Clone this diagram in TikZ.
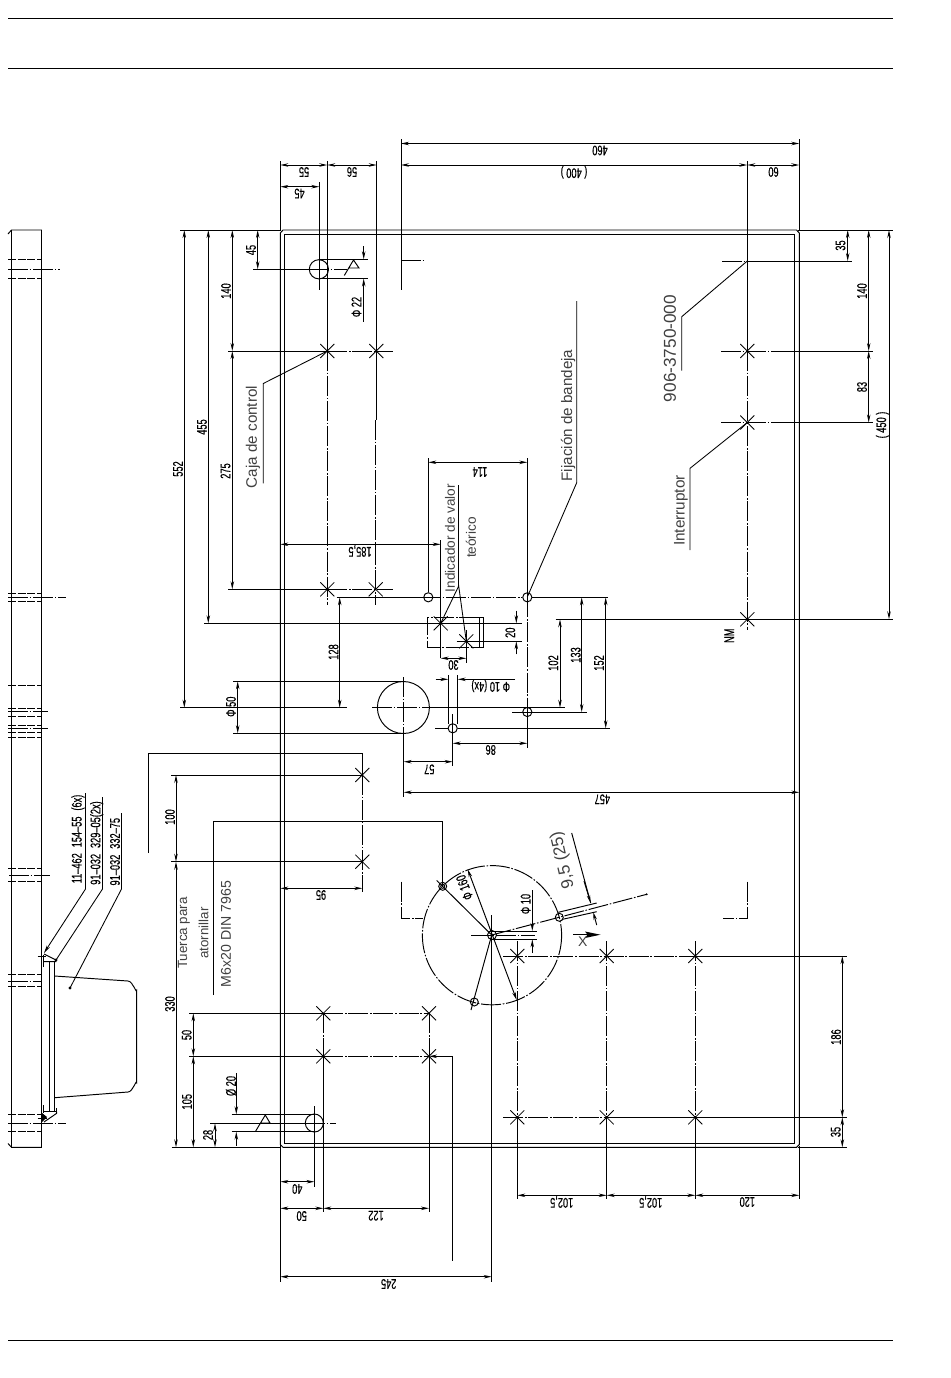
\documentclass[tikz,border=0pt]{standalone}
\usepackage{fontspec}
\setmainfont{Liberation Sans}
\newfontfamily\dimfont[FakeStretch=0.66,FakeBold=0.3]{Liberation Sans}
\usetikzlibrary{arrows.meta}
\newcounter{nd}
\newcommand{\dt}[4]{\stepcounter{nd}\node[dimtext,rotate=#3] (d\thend) at (#1,#2) {#4};}
\newcommand{\lb}[5]{\stepcounter{nd}\node[labeltext,rotate=#4,font=\fontsize{#3}{#3}\selectfont] (l\thend) at (#1,#2) {#5};}
\newcommand{\xm}[2]{\draw[xmk] (#1-7,#2-7)--(#1+7,#2+7) (#1-7,#2+7)--(#1+7,#2-7);}
\tikzset{
  x=0.75pt,y=-0.75pt,
  every path/.style={line width=0.72pt,line join=miter},
  dimtext/.style={inner sep=0pt,text=black,font=\dimfont\fontsize{10.5}{11}\selectfont},
  labeltext/.style={inner sep=0pt,text=black!75},
  cl/.style={dash pattern=on 15pt off 1.3pt on 1.2pt off 1.3pt},
  hd/.style={dash pattern=on 6pt off 1.3pt},
  xmk/.style={line width=0.62pt},
  dm/.style={{Stealth[length=6pt,width=2.6pt]}-{Stealth[length=6pt,width=2.6pt]}},
  ar/.style={-{Stealth[length=6pt,width=2.6pt]}},
  lead/.style={line width=0.65pt}
}
\begin{document}
\begin{tikzpicture}
\useasboundingbox (0,0) rectangle (950,1378);
% page rules
\draw (8,18)--(893,18); \draw (8,68)--(893,68); \draw (8,1340)--(893,1340);

% plate
\draw (280.3,233)--(283,230)--(796.5,230)--(799.3,233)--(799.3,1144.5)--(796.5,1147.3)--(283,1147.3)--(280.3,1144.5)--cycle;
\draw (284.3,234.3) rectangle (794.7,1143.3);
\draw (180,230)--(281,230) (798,230)--(893,230);
\draw (171.7,1147.3)--(281,1147.3) (798,1147.3)--(847.3,1147.3);
\draw (280.3,161.3)--(280.3,231);
\draw[line width=1.1pt] (280.3,1130)--(280.3,1187);
\draw (280.3,1147)--(280.3,1282);
\draw (799.3,139)--(799.3,231) (799.3,1146)--(799.3,1199.3);

% side view
\draw (8,234)--(11.5,230)--(41.5,230)--(41.5,1147.3)--(11.5,1147.3)--(8,1143.5);
\draw (11.5,230)--(11.5,1147.3);
\foreach \yy in {259.3,278.5,593,601,685.3,708,716,725.3,732.3,737.3,868,881,974,986.3,1114,1131}
  {\draw[hd] (8,\yy)--(41.5,\yy);}
\draw[cl] (8,269.5)--(60,269.5);
\draw[cl] (8,597)--(66,597);
\draw[cl,line width=1.1pt] (8,711.7)--(48,711.7);
\draw[cl] (8,728.3)--(48,728.3);
\draw[cl] (9,875.3)--(50,875.3);
\draw[cl] (8,981)--(41.5,981);
\draw[cl] (8,1123.3)--(66,1123.3);
% side view: panel and brackets
\draw (49,962)--(49,1111.7) (54.5,962)--(54.5,1111.7);
\draw (43.3,967)--(43.3,955) (37.5,956)--(46,956);
\draw (43.3,961.7)--(56,961.7)--(56,960)--(44,954);
\draw (43.3,1105)--(43.3,1113);
\draw (43.3,1111.7)--(56.7,1111.7)--(56.7,1107.5);
\draw (56.7,1111.7)--(56.7,1113.3)--(44,1122);
\fill (42,1113)--(47,1117)--(42,1122)--cycle;
\draw (37.5,1118)--(47,1118);
\draw (54.5,976)--(128,981) to[out=0,in=-90] (136.7,990)--(136.7,1083) to[out=90,in=0] (128,1092)--(54.5,1097.7);
% side view leaders
\draw[lead] (85.5,793)--(85.5,889);
\draw[lead,ar] (85.5,889)--(44,953);
\draw[lead] (102.5,797)--(102.5,889)--(56,960);
\fill (56,960) circle[radius=1.6];
\draw[lead] (121.5,813)--(121.5,889)--(70,988);
\fill (70,988) circle[radius=1.6];
\dt{78}{839}{90}{11–462\hspace{2.5pt} 154–55\hspace{2.5pt} (6x)}
\dt{96.7}{843}{90}{91–032\hspace{2.5pt} 329–05(2x)}
\dt{115}{851.7}{90}{91–032\hspace{2.5pt} 332–75}

% top dimensions
\draw (401,139)--(401,290);
\draw[cl] (401,260.5)--(423,260.5);
\draw[dm] (401,143.5)--(799.3,143.5);
\dt{600}{150.5}{180}{460}
\draw[dm] (401,165)--(747.3,165);
\dt{574}{172}{180}{( 400 )}
\draw[dm] (747.3,165)--(799.3,165);
\dt{773.5}{172}{180}{60}
\draw (747.3,161)--(747.3,351);
\draw[cl] (747.3,351)--(747.3,630);
\draw[cl] (722,261)--(747.3,261); \draw (747.3,261)--(851.7,261);
\draw[cl] (721,351)--(790,351); \draw (790,351)--(873,351);
\draw[cl] (721,422.5)--(790,422.5); \draw (790,422.5)--(873,422.5);
\draw[cl] (555.7,619.3)--(565,619.3); \draw (565,619.3)--(893,619.3);
\xm{747.3}{351} \xm{747.3}{422.5} \xm{747.3}{619.3}
\dt{729.3}{635.7}{90}{NM}

% right dimensions
\draw[dm] (847.7,230)--(847.7,261); \dt{840.5}{245.5}{90}{35}
\draw[dm] (868.7,230)--(868.7,351); \dt{862}{291}{90}{140}
\draw[dm] (868.7,351)--(868.7,422.5); \dt{862}{387}{90}{83}
\draw[dm] (889,230)--(889,619.3); \dt{882.5}{425}{90}{( 450 )}

% labels right
\draw[lead] (747.3,261)--(681.7,316.7)--(681.7,370.7);
\lb{670}{348.5}{12.9}{90}{906-3750-000}
\draw[lead] (747.3,422.5)--(690,468.3)--(690,550);
\lb{681}{510.5}{11.5}{90}{Interruptor}
\draw[lead] (527.3,597)--(576.7,482.7)--(576.7,301);
\lb{568}{415.5}{11.4}{90}{Fijación de bandeja}

% upper left group
\draw[dm] (280.3,186.7)--(319.3,186.7); \dt{299.5}{193.5}{180}{45}
\draw[dm] (280.3,165)--(327.3,165); \dt{304}{172}{180}{55}
\draw[dm] (327.3,165)--(376.7,165); \dt{352}{172}{180}{56}
\draw (327.3,161.3)--(327.3,351); \draw[cl] (327.3,351)--(327.3,605);
\draw (376.7,161.3)--(376.7,420); \draw[cl] (375.7,420)--(375.7,605);
\draw (319.3,182)--(319.3,290);
\draw (253,269.3)--(309,269.3); \draw[cl] (309,269.3)--(347,269.3);
\draw (318.9,269.3) circle[radius=9.6];
\draw (319,259.3)--(368,259.3) (319,278.5)--(368,278.5);
\draw (344.3,275.5)--(353.5,260)--(359,268)--(348.3,268);
\draw[ar] (363.7,246)--(363.7,259.3);
\draw[ar] (363.7,321.7)--(363.7,278.5);
\dt{356.5}{307}{90}{Φ 22}
\draw[dm] (257.7,230)--(257.7,269.3); \dt{251}{250}{90}{45}
\draw[dm] (232.3,230)--(232.3,351); \dt{226}{291}{90}{140}
\draw[dm] (232.3,351)--(232.3,589.3); \dt{225.5}{471}{90}{275}
\draw[dm] (208.3,230)--(208.3,623.3); \dt{202}{427}{90}{455}
\draw[dm] (184.3,230)--(184.3,707.7); \dt{178}{469}{90}{552}
\draw (228,351)--(327.3,351); \draw[cl] (327.3,351)--(392.7,351);
\draw (228,589.3)--(327.3,589.3); \draw[cl] (327.3,589.3)--(393,589.3);
\xm{327.3}{351} \xm{376.3}{351} \xm{327.3}{589.3} \xm{375.7}{589.3}
\draw[lead] (327.3,351)--(263.3,383.5)--(263.3,483.3);
\lb{253}{437}{11.4}{90}{Caja de control}

% centre group
\draw (428.3,458)--(428.3,592);
\draw (527.3,458)--(527.3,597);
\draw[dm] (428.3,462.3)--(527.3,462.3); \dt{480}{472}{180}{114}
\draw[dm] (280.3,544.3)--(440.7,544.3); \dt{360}{551}{180}{185,5}
\draw (440.7,540)--(440.7,658);
\draw (336.7,597.3)--(421,597.3); \draw[cl] (421,597.3)--(522,597.3); \draw (532,597.3)--(608.3,597.3);
\draw (428.3,597.3) circle[radius=4.6];
\draw (527.3,597.3) circle[radius=4.6];
\draw (527.3,712) circle[radius=4.6];
\draw (452.7,728.3) circle[radius=4.6];
\draw[cl] (527.3,597.3)--(527.3,712); \draw (527.3,712)--(527.3,747.7);
\draw[dm] (339.7,597.3)--(339.7,707.7); \dt{333.5}{652}{90}{128}
\draw (204,623.3)--(521.7,623.3);
\draw (456.7,641.3)--(521.7,641.3);
\draw[cl] (479.3,617.3)--(427.3,617.3)--(427.3,647.3)--(479.3,647.3);
\draw (479.3,617.3)--(483.7,617.3)--(483.7,647.3)--(479.3,647.3)--cycle;
\xm{440.7}{623.3} \xm{466.3}{641.3}
\draw (466.3,630)--(466.3,663);
\draw[dm] (440.7,658.3)--(466.3,658.3); \dt{453.5}{665}{180}{30}
\draw[ar] (516.3,610.7)--(516.3,623.3); \draw[ar] (516.3,654.3)--(516.3,641.3);
\dt{510.3}{632.7}{90}{20}
\draw[lead] (440.7,623.3)--(458.7,586)--(466.3,641.3);
\draw[lead] (458.7,586)--(458.7,485);
\lb{450}{538}{10.2}{90}{Indicador de valor}
\lb{471}{537.5}{10.2}{90}{teórico}
% big hole
\draw (403.4,707.5) circle[radius=26];
\draw (233,681.3)--(403.7,681.3) (233,733.3)--(403.7,733.3);
\draw[dm] (237.7,681.3)--(237.7,733.3); \dt{231}{706.7}{90}{Φ 50}
\draw (180,707.7)--(346.7,707.7);
\draw[cl] (372,707.7)--(432,707.7); \draw (432,707.7)--(564.7,707.7);
\draw[cl] (403.7,677)--(403.7,734); \draw (403.7,734)--(403.7,796.7);
\draw[cl] (512,712)--(527,712); \draw (527,712)--(586.7,712);
\draw[cl] (435,728.3)--(448,728.3); \draw (457.7,728.3)--(610,728.3);
\draw (448.3,675)--(448.3,724) (457.7,675)--(457.7,724);
\draw[cl] (452.7,714)--(452.7,728); \draw (452.7,728)--(452.7,766);
\draw[ar] (435.7,679.3)--(448.3,679.3);
\draw[ar] (515,679.3)--(457.7,679.3);
\dt{490.7}{685.7}{180}{Φ 10 (4x)}
\draw[dm] (452.7,743.3)--(527.3,743.3); \dt{490.7}{750}{180}{86}
\draw[dm] (403.7,761.7)--(452.7,761.7); \dt{429.3}{769.3}{180}{57}
\draw[dm] (403.7,792.3)--(799.3,792.3); \dt{602.3}{799.3}{180}{457}
\draw[dm] (560,619.3)--(560,707.7); \dt{553.3}{663}{90}{102}
\draw[dm] (581.7,597.3)--(581.7,712); \dt{575.7}{655}{90}{133}
\draw[dm] (605.7,597.3)--(605.7,728.3); \dt{599}{663}{90}{152}

% left middle group
\draw (148.3,853)--(148.3,753.3)--(362.3,753.3)--(362.3,775);
\draw[cl] (362.3,775)--(362.3,892);
\draw (171,775)--(362.3,775) (171,861.7)--(362.3,861.7);
\xm{362.3}{775} \xm{362.3}{861.7}
\draw[dm] (176,775)--(176,861.7); \dt{170}{817}{90}{100}
\draw[dm] (176,861.7)--(176,1147.3); \dt{170}{1004}{90}{330}
\draw[dm] (280.3,888.3)--(362.3,888.3); \dt{321}{895}{180}{95}
\draw[lead] (213.3,995)--(213.3,821.7)--(442.3,821.7)--(442.3,886.3);
\lb{184}{933}{10}{90}{Tuerca para}
\lb{203.5}{933}{10}{90}{atornillar}
\lb{226}{934}{10.6}{90}{M6x20 DIN 7965}

% corner marks
\draw[cl] (401.7,881.7)--(401.7,918.3)--(423,918.3);
\draw[cl] (747.3,881.7)--(747.3,918.3)--(723,918.3);

% bolt circle
\draw[cl] (492,935.2) circle[radius=69.6];
\draw (492,935) circle[radius=4.5];
\draw (442.7,886.3) circle[radius=4]; \draw (442.7,886.3) circle[radius=2];
\draw (559.3,917.3) circle[radius=4];
\draw (474.3,1002) circle[radius=4];
\draw (436.7,880.5)--(491.7,935);
\draw (491.7,935)--(471,1010);
\draw[cl] (491.7,935)--(646.7,894.3);
\fill (646.7,894.3) circle[radius=1.1];
\draw[dm] (467.7,869.3)--(516.7,1000);
\dt{464.5}{887.5}{110}{Φ 160}
\draw (558.3,912.3)--(596.7,903) (561.7,919.5)--(596.7,911.7);
\draw (571.7,833)--(590.7,903);
\draw[ar] (584,881)--(590.7,903);
\draw[ar] (596.7,925)--(593.2,912);
\lb{563}{860}{12.7}{103}{9,5 (25)}
% phi 10 at centre
\draw (491.7,931)--(536.7,931) (491.7,939.3)--(536.7,939.3);
\draw[cl] (471,935)--(535,935);
\draw[ar] (532.3,890)--(532.3,931);
\draw[ar] (532.3,953)--(532.3,939.3);
\dt{525.7}{904}{90}{Φ 10}
% x arrow
\draw (573,934.7)--(588,934.7);
\fill (585,931.5)--(600.5,934.7)--(585,938)--(587.5,934.7)--cycle;
\lb{582.7}{941.5}{10.5}{0}{X}
\draw (491.7,915)--(491.7,1282);

% lower right grid
\draw[cl] (503.3,956)--(695.3,956); \draw (695.3,956)--(847.3,956);
\draw[cl] (503.3,1117.3)--(606.7,1117.3); \draw (606.7,1117.3)--(847.3,1117.3);
\foreach \xx in {606.7,695.3}{\draw[cl] (\xx,941)--(\xx,1117.3);\draw (\xx,1117.3)--(\xx,1199.3);}
\draw[cl] (517.3,941)--(517.3,1117.3); \draw (517.3,1117.3)--(517.3,1199.3);
\xm{517.3}{956} \xm{606.7}{956} \xm{695.3}{956}
\xm{517.3}{1117.3} \xm{606.7}{1117.3} \xm{695.3}{1117.3}
\draw[dm] (842.3,956)--(842.3,1117.3); \dt{836}{1037}{90}{186}
\draw[dm] (842.3,1117.3)--(842.3,1147.3); \dt{835.7}{1132}{90}{35}
\draw[dm] (517.3,1195.3)--(606.7,1195.3); \dt{561.7}{1202}{180}{102,5}
\draw[dm] (606.7,1195.3)--(695.3,1195.3); \dt{650.7}{1202}{180}{102,5}
\draw[dm] (695.3,1195.3)--(799.3,1195.3); \dt{747.3}{1202}{180}{120}

% lower left grid
\draw (189,1013.3)--(323.3,1013.3); \draw[cl] (323.3,1013.3)--(429,1013.3);
\draw (189,1056.3)--(323.3,1056.3); \draw[cl] (323.3,1056.3)--(429,1056.3);
\draw[cl] (323.3,1013.3)--(323.3,1056.3); \draw (323.3,1056.3)--(323.3,1211.7);
\draw[cl] (429,1013.3)--(429,1056.3); \draw (429,1056.3)--(429,1211.7);
\xm{323.3}{1013.3} \xm{429}{1013.3} \xm{323.3}{1056.3} \xm{429}{1056.3}
\draw[lead,{Stealth[length=6pt,width=2.6pt]}-] (429,1056.3)--(452.7,1056.3)--(452.7,1261);
\draw[dm] (193.3,1013.3)--(193.3,1056.3); \dt{186.7}{1035}{90}{50}
\draw[dm] (193.3,1056.3)--(193.3,1147.3); \dt{187}{1101.7}{90}{105}
\draw[dm] (215,1123.3)--(215,1147.3); \dt{208}{1135}{90}{28}
\draw (210,1123.3)--(305,1123.3);
\draw[cl] (305,1123.3)--(335.7,1123.3);
\draw (314.3,1123) circle[radius=9];
\draw (231.7,1114.3)--(314.3,1114.3) (231.7,1131.7)--(314.3,1131.7);
\draw[cl] (314.5,1106)--(314.5,1123); \draw (314.5,1123)--(314.5,1186.7);
\draw[ar] (236.3,1073)--(236.3,1114.3);
\draw[ar] (236.3,1145.7)--(236.3,1131.7);
\dt{231}{1086}{90}{Ø 20}
\draw (255.7,1131)--(265.3,1115)--(270,1123)--(260,1123);
\draw[dm] (280.3,1181.7)--(314.5,1181.7); \dt{297.3}{1189}{180}{40}
\draw[dm] (280.3,1208.3)--(323.3,1208.3); \dt{301.7}{1216}{180}{50}
\draw[dm] (323.3,1208.3)--(429,1208.3); \dt{376}{1215.7}{180}{122}
\draw[dm] (280.3,1276.7)--(491.7,1276.7); \dt{388.7}{1284}{180}{245}
\end{tikzpicture}
\end{document}
